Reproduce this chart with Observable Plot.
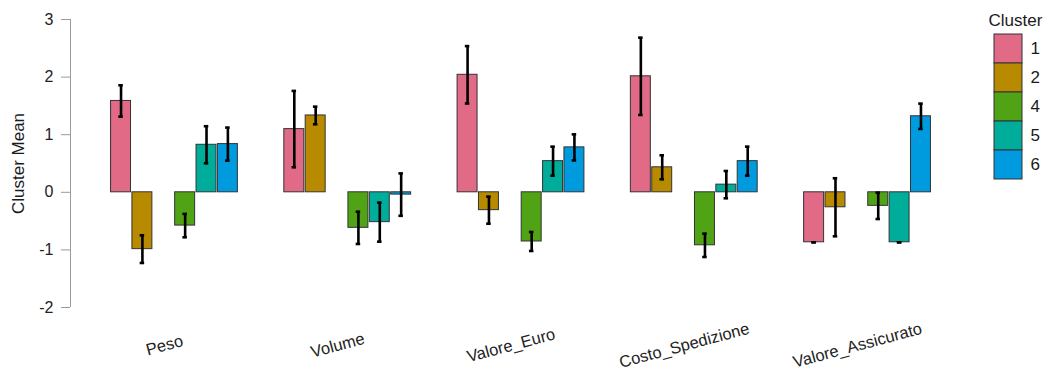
<!DOCTYPE html>
<html>
<head>
<meta charset="utf-8">
<script src="https://cdn.jsdelivr.net/npm/d3@7"></script>
<script src="https://cdn.jsdelivr.net/npm/@observablehq/plot@0.6"></script>
<style>
  html, body { margin: 0; padding: 0; background: #fff; }
  #wrap { position: relative; width: 1047px; height: 375px; font-family: "Liberation Sans", Arial, sans-serif; }
  #legend { position: absolute; left: 988px; top: 0; }
</style>
</head>
<body>
<div id="wrap"><div id="chart"></div><div id="legend"></div></div>
<script>
// Variables (x groups) and clusters (dodged bars)
const variables = ["Peso", "Volume", "Valore_Euro", "Costo_Spedizione", "Valore_Assicurato"];
const clusters = ["1", "2", "4", "5", "6"];
const clusterColors = ["#E16A86", "#B88A00", "#50A315", "#00AD9A", "#009ADE"];

// Cluster means per variable (same order as `variables`)
const mean1 = [1.586, 1.097, 2.040, 2.014, -0.868];
const mean2 = [-0.987, 1.334, -0.310, 0.434, -0.260];
const mean4 = [-0.578, -0.617, -0.854, -0.920, -0.235];
const mean5 = [0.825, -0.518, 0.541, 0.133, -0.868];
const mean6 = [0.837, -0.040, 0.780, 0.541, 1.320];

// Standard errors (half-length of the error bars)
const se1 = [0.272, 0.663, 0.498, 0.671, 0.000];
const se2 = [0.240, 0.153, 0.235, 0.208, 0.504];
const se4 = [0.203, 0.280, 0.165, 0.203, 0.229];
const se5 = [0.322, 0.339, 0.252, 0.237, 0.000];
const se6 = [0.287, 0.368, 0.226, 0.252, 0.220];

const yTicks = [-2, -1, 0, 1, 2, 3];

const means = [mean1, mean2, mean4, mean5, mean6];
const ses = [se1, se2, se4, se5, se6];

// Dodge layout: six cluster slots per variable (slot 3 is empty)
const dodgeWidth = 0.74;
const nSlots = 6;
const slotW = dodgeWidth / nSlots;
const capHalf = 0.013;
const xDomain = [0.4, variables.length + 0.6];
const yDomain = [yTicks[0], yTicks[yTicks.length - 1]];

const rows = [];
clusters.forEach((c, ci) => {
  variables.forEach((v, vi) => {
    const g = vi + 1;
    const slot = +c - 1;
    const x1 = g - dodgeWidth / 2 + slot * slotW;
    rows.push({
      variable: v, cluster: c,
      x1, x2: x1 + slotW, xc: x1 + slotW / 2,
      mean: means[ci][vi],
      lo: means[ci][vi] - ses[ci][vi],
      hi: means[ci][vi] + ses[ci][vi]
    });
  });
});

const color = { domain: clusters, range: clusterColors };

const chart = Plot.plot({
  width: 1047,
  height: 375,
  marginTop: 19,
  marginBottom: 68,
  marginLeft: 70,
  marginRight: 76,
  style: { fontFamily: "Liberation Sans, Arial, sans-serif", fontSize: "16px", background: "#fff" },
  x: { domain: xDomain, axis: null },
  y: { domain: yDomain, axis: null },
  color,
  marks: [
    Plot.ruleX([xDomain[0]], { y1: yDomain[0], y2: yDomain[1], stroke: "#9a9a9a", strokeWidth: 1 }),
    Plot.axisY({
      ticks: yTicks, tickFormat: d => String(d), tickSize: 9, tickPadding: 8, stroke: "#9a9a9a",
      fill: "#222", fontSize: 16, label: null
    }),
    Plot.text(["Cluster Mean"], {
      frameAnchor: "left", textAnchor: "middle", lineAnchor: "middle",
      rotate: -90, dx: -52, fontSize: 17, fill: "#1a1a1a"
    }),
    Plot.text(variables, {
      x: (d, i) => i + 1, frameAnchor: "bottom", textAnchor: "middle", lineAnchor: "middle",
      rotate: -15, dx: -10, dy: 38, fontSize: 16.5, fill: "#222"
    }),
    Plot.rect(rows, {
      x1: "x1", x2: "x2", y1: 0, y2: "mean", fill: "cluster",
      stroke: "#333", strokeWidth: 1, insetLeft: 0.7, insetRight: 0.7
    }),
    Plot.ruleX(rows, { x: "xc", y1: "lo", y2: "hi", stroke: "#000", strokeWidth: 2.6 }),
    Plot.ruleY(rows, { y: "lo", x1: d => d.xc - capHalf, x2: d => d.xc + capHalf, stroke: "#000", strokeWidth: 2.6 }),
    Plot.ruleY(rows, { y: "hi", x1: d => d.xc - capHalf, x2: d => d.xc + capHalf, stroke: "#000", strokeWidth: 2.6 })
  ]
});
document.getElementById("chart").append(chart);

// Legend: stacked colour swatches with the cluster labels
const legend = Plot.plot({
  width: 59,
  height: 190,
  marginTop: 33,
  marginBottom: 10,
  marginLeft: 6,
  marginRight: 25,
  style: { fontFamily: "Liberation Sans, Arial, sans-serif", fontSize: "17px", background: "transparent", overflow: "visible" },
  x: { axis: null },
  y: { domain: clusters, padding: 0, axis: null },
  color,
  marks: [
    Plot.cell(clusters, { y: d => d, fill: d => d, stroke: "#333", strokeWidth: 1 }),
    Plot.text(clusters, { y: d => d, frameAnchor: "right", textAnchor: "start", dx: 8, fontSize: 17, fill: "#1a1a1a" }),
    Plot.text(["Cluster"], {
      frameAnchor: "top-left", textAnchor: "start", lineAnchor: "middle",
      dx: -6, dy: -13, fontSize: 17, fill: "#1a1a1a"
    })
  ]
});
document.getElementById("legend").append(legend);
</script>
</body>
</html>
